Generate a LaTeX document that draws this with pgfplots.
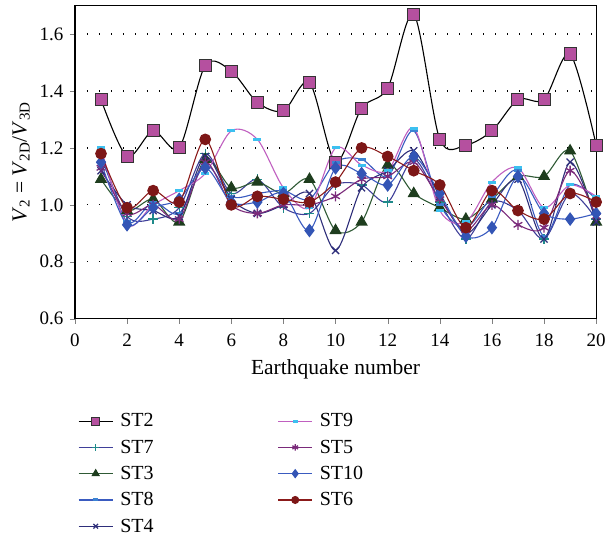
\documentclass[border=0pt]{standalone}
\usepackage{fontspec}
\setmainfont{Liberation Serif}
\usepackage{pgfplots}
\pgfplotsset{compat=1.18}
\usetikzlibrary{plotmarks}

\definecolor{stpink}{HTML}{B5509F}
\definecolor{stteal}{HTML}{1F8A8A}
\definecolor{stindigo}{HTML}{3F3F99}
\definecolor{stgreenl}{HTML}{2F5A35}
\definecolor{stgreen}{HTML}{1E3D1E}
\definecolor{stblue}{HTML}{3A5BC0}
\definecolor{stnavy}{HTML}{2E2E7A}
\definecolor{storchid}{HTML}{C060C0}
\definecolor{stcyan}{HTML}{3CC0F0}
\definecolor{stpurple}{HTML}{7A2A7A}
\definecolor{stdiam}{HTML}{3355B5}
\definecolor{stred}{HTML}{8B1A1A}

\begin{document}
\begin{tikzpicture}
\begin{axis}[
  scale only axis, width=521pt, height=313pt,
  xmin=0, xmax=20, ymin=0.6, ymax=1.7,
  xtick={0,2,...,20}, ytick={0.6,0.8,...,1.61},
  tick align=outside, xtick pos=bottom, ytick pos=left,
  major tick length=5pt,
  /pgf/number format/assume math mode=true,
  yticklabel style={/pgf/number format/.cd, fixed, fixed zerofill, precision=1},
  ticklabel style={font=\fontsize{19}{21}\selectfont},
  xticklabel shift=7pt, yticklabel shift=3pt,
  label style={font=\fontsize{21.5}{25}\selectfont},
  xlabel shift=6pt, ylabel shift=3pt,
  xlabel={Earthquake number},
  ylabel={\textit{V}\textsubscript{2} = \textit{V}\textsubscript{2D}/\textit{V}\textsubscript{3D}},
  axis line style={line width=1.2pt},
  ymajorgrids, major grid style={black, line width=1.2pt, dash pattern=on 1.2pt off 10.8pt},
  every axis plot/.append style={smooth, line width=1.1pt},
  legend columns=5, transpose legend,
  legend cell align=left,
  legend image code/.code={\draw[mark repeat=2, mark phase=2, every mark/.append style={scale=0.65}] plot coordinates {(0pt,0pt) (17pt,0pt) (34pt,0pt)};},
  legend style={draw=none, fill=none, at={(0,-0.29)}, anchor=north west,
    font=\fontsize{20}{24}\selectfont, row sep=7.5pt,
    /tikz/every odd column/.append style={column sep=5pt},
    /tikz/every even column/.append style={column sep=122pt}},
]
% ST2
\addplot[black, mark=square*, mark size=6pt, mark options={fill=stpink, draw=black!80, line width=1pt}] coordinates {
(1,1.37) (2,1.17) (3,1.26) (4,1.20) (5,1.49) (6,1.47) (7,1.36) (8,1.33) (9,1.43) (10,1.15)
(11,1.34) (12,1.41) (13,1.67) (14,1.23) (15,1.21) (16,1.26) (17,1.37) (18,1.37) (19,1.53) (20,1.21)};
\addlegendentry{ST2}
% ST7
\addplot[stindigo, mark=+, mark size=5pt, mark options={stteal, line width=1.3pt}] coordinates {
(1,1.17) (2,0.96) (3,0.95) (4,0.99) (5,1.18) (6,1.04) (7,1.09) (8,0.99) (9,0.97) (10,1.07)
(11,1.07) (12,1.01) (13,1.16) (14,1.01) (15,0.88) (16,1.01) (17,0.98) (18,0.88) (19,1.04) (20,0.95)};
\addlegendentry{ST7}
% ST3
\addplot[stgreenl, mark=triangle*, mark size=6pt, mark options={fill=stgreen, draw=stgreen}] coordinates {
(1,1.09) (2,0.98) (3,1.02) (4,0.94) (5,1.16) (6,1.06) (7,1.08) (8,1.04) (9,1.09) (10,0.91)
(11,0.94) (12,1.14) (13,1.04) (14,0.99) (15,0.95) (16,1.02) (17,1.10) (18,1.10) (19,1.19) (20,0.94)};
\addlegendentry{ST3}
% ST8
\addplot[stblue, mark=-, mark size=4pt, mark options={stblue!60!stcyan, line width=3pt}] coordinates {
(1,1.19) (2,0.94) (3,1.01) (4,0.97) (5,1.14) (6,1.03) (7,1.04) (8,1.05) (9,1.02) (10,1.15)
(11,1.16) (12,1.10) (13,1.26) (14,1.00) (15,0.92) (16,1.03) (17,1.12) (18,0.89) (19,1.07) (20,1.02)};
\addlegendentry{ST8}
% ST4
\addplot[stnavy, mark=x, mark size=5pt, mark options={stnavy, line width=1.3pt}] coordinates {
(1,1.12) (2,1.00) (3,0.98) (4,0.96) (5,1.17) (6,1.02) (7,0.97) (8,1.00) (9,1.04) (10,0.84)
(11,1.06) (12,1.12) (13,1.19) (14,1.03) (15,0.90) (16,1.00) (17,1.09) (18,0.88) (19,1.15) (20,0.94)};
\addlegendentry{ST4}
% ST9
\addplot[storchid, mark=-, mark size=4pt, mark options={stcyan, line width=3pt}] coordinates {
(1,1.20) (2,0.93) (3,1.00) (4,1.05) (5,1.11) (6,1.26) (7,1.23) (8,1.06) (9,0.99) (10,1.20)
(11,1.14) (12,1.12) (13,1.27) (14,0.98) (15,0.94) (16,1.08) (17,1.13) (18,0.99) (19,1.07) (20,1.03)};
\addlegendentry{ST9}
% ST5
\addplot[stpurple, mark=asterisk, mark size=5pt, mark options={stpurple, line width=1.3pt}] coordinates {
(1,1.13) (2,0.97) (3,1.00) (4,0.95) (5,1.15) (6,1.00) (7,0.97) (8,1.00) (9,1.00) (10,1.03)
(11,1.09) (12,1.10) (13,1.15) (14,1.02) (15,0.91) (16,1.00) (17,0.93) (18,0.92) (19,1.12) (20,0.96)};
\addlegendentry{ST5}
% ST10
\addplot[stblue, mark=diamond*, mark size=6pt, mark options={fill=stdiam, draw=stdiam}] coordinates {
(1,1.15) (2,0.93) (3,0.99) (4,1.02) (5,1.13) (6,1.01) (7,1.01) (8,1.04) (9,0.91) (10,1.13)
(11,1.11) (12,1.07) (13,1.17) (14,1.04) (15,0.89) (16,0.92) (17,1.10) (18,0.97) (19,0.95) (20,0.97)};
\addlegendentry{ST10}
% ST6
\addplot[stred, mark=*, mark size=5.3pt, mark options={fill=stred!90!black, draw=stred!90!black}] coordinates {
(1,1.18) (2,0.99) (3,1.05) (4,1.01) (5,1.23) (6,1.00) (7,1.03) (8,1.02) (9,1.01) (10,1.08)
(11,1.20) (12,1.17) (13,1.12) (14,1.07) (15,0.92) (16,1.05) (17,0.98) (18,0.95) (19,1.04) (20,1.01)};
\addlegendentry{ST6}
\end{axis}
\path ([xshift=-9pt, yshift=5pt]current bounding box.north west);
\end{tikzpicture}
\end{document}
